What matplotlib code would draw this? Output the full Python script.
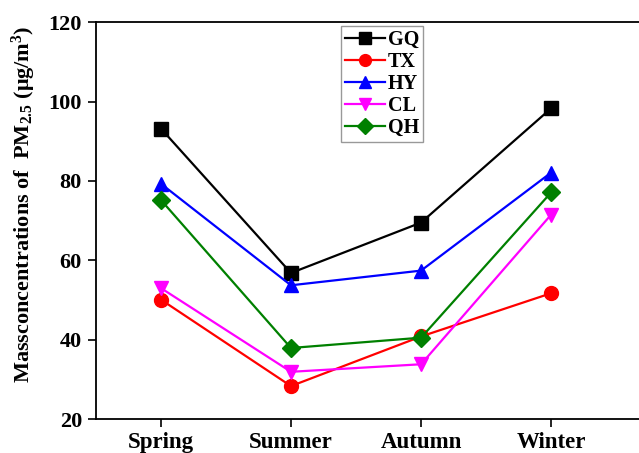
import matplotlib
matplotlib.use('Agg')
import matplotlib.pyplot as plt

plt.rcParams['font.family'] = 'Liberation Serif'
plt.rcParams['font.weight'] = 'bold'
plt.rcParams['mathtext.fontset'] = 'custom'
plt.rcParams['mathtext.rm'] = 'Liberation Serif:bold'
plt.rcParams['mathtext.bf'] = 'Liberation Serif:bold'
plt.rcParams['mathtext.default'] = 'bf'

seasons = ['Spring', 'Summer', 'Autumn', 'Winter']
sites = ['GQ', 'TX', 'HY', 'CL', 'QH']
gq = [93.2, 56.8, 69.5, 98.3]
tx = [50.1, 28.3, 40.8, 51.7]
hy = [79.3, 53.7, 57.4, 82.1]
cl = [53.0, 31.9, 33.8, 71.5]
qh = [75.2, 37.9, 40.5, 77.1]

colors = ['black', 'red', 'blue', 'magenta', 'green']
markers = ['s', 'o', '^', 'v', 'D']

fig = plt.figure(figsize=(6.39, 4.53), dpi=100)
ax = fig.add_axes([0.150, 0.075, 0.855, 0.876])

x = list(range(len(seasons)))
for name, vals, c, m in zip(sites, [gq, tx, hy, cl, qh], colors, markers):
    ax.plot(x, vals, color=c, marker=m, markersize=10 if m != 'D' else 9,
            linewidth=1.6, label=name)

ax.set_xlim(-0.5, 3.7)
ax.set_ylim(20, 120)
ax.set_yticks([20, 40, 60, 80, 100, 120])
ax.set_xticks(x)
ax.set_xticklabels(seasons)
ax.tick_params(axis='both', direction='out', width=1.2, length=6)
ax.tick_params(axis='x', labelsize=16.5, pad=3)
ax.tick_params(axis='y', labelsize=16, pad=4)
for s in ax.spines.values():
    s.set_linewidth(1.3)

ax.set_ylabel('Massconcentrations of  PM$_{2.5}$ (μg/m$^3$)', fontsize=16,
              fontweight='bold')
ax.yaxis.set_label_coords(-0.106, 0.54)

leg = ax.legend(loc='upper center', bbox_to_anchor=(0.524, 1.0), fontsize=14.5,
                frameon=True, fancybox=False, edgecolor='gray',
                handlelength=2.0, handletextpad=0.15, labelspacing=0.1,
                borderpad=0.2, borderaxespad=0.2, markerscale=0.85)
leg.get_frame().set_linewidth(1.0)

fig.savefig('out.png', dpi=100)
